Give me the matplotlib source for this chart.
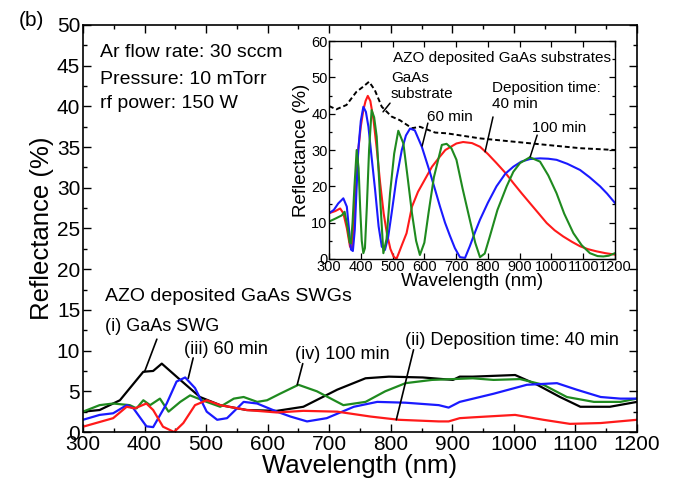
import matplotlib
matplotlib.use("Agg")
import matplotlib.pyplot as plt
from matplotlib.ticker import MultipleLocator

plt.rcParams['font.family'] = ['Liberation Sans', 'DejaVu Sans']

# ---------------- main panel data (AZO deposited GaAs SWGs) ----------------
swg_wl = [300, 327, 360, 398, 414, 428, 458, 490, 523, 566, 615, 658, 713, 759, 797, 852,
          901, 912, 933, 1002, 1038, 1075, 1108, 1156, 1200]
swg_R = [2.5, 2.7, 3.9, 7.4, 7.5, 8.4, 6.4, 4.3, 3.3, 2.7, 2.6, 3.1, 5.2, 6.6, 6.8, 6.7,
         6.4, 6.8, 6.8, 7.0, 5.8, 4.3, 3.1, 3.1, 3.7]

m40_wl = [300, 349, 371, 384, 403, 414, 430, 448, 463, 482, 501, 523, 566, 615, 658, 713,
          767, 813, 878, 894, 912, 933, 1002, 1048, 1091, 1141, 1200]
m40_R = [0.65, 1.7, 3.1, 2.9, 3.5, 2.7, 0.65, 0.0, 1.1, 3.3, 3.9, 3.3, 2.7, 2.4, 2.6, 2.5,
         1.9, 1.5, 1.3, 1.3, 1.7, 1.8, 2.1, 1.5, 1.0, 1.1, 1.5]

m60_wl = [300, 327, 349, 371, 382, 403, 414, 436, 452, 466, 482, 501, 518, 534, 561, 583,
          615, 637, 664, 696, 740, 778, 824, 878, 894, 912, 967, 1021, 1070, 1102, 1141,
          1173, 1200]
m60_R = [1.5, 2.1, 2.3, 3.3, 2.9, 0.7, 0.6, 3.5, 6.2, 6.7, 5.4, 2.5, 1.5, 1.7, 3.7, 3.5,
         2.5, 1.9, 1.3, 1.7, 3.1, 3.7, 3.6, 3.3, 3.0, 3.7, 4.7, 5.8, 6.0, 5.2, 4.3,
         4.1, 4.1]

m100_wl = [300, 327, 349, 376, 387, 398, 409, 425, 439, 458, 474, 501, 523, 545, 561, 583,
           599, 620, 650, 680, 723, 759, 791, 824, 867, 901, 933, 967, 1010, 1048, 1086,
           1130, 1173, 1200]
m100_R = [2.5, 3.3, 3.5, 3.3, 2.9, 3.9, 3.3, 4.1, 2.5, 3.7, 4.5, 3.7, 3.1, 4.1, 4.3, 3.7,
          3.9, 4.7, 5.8, 5.0, 3.3, 3.7, 5.0, 6.0, 6.4, 6.5, 6.6, 6.4, 6.5, 5.8, 4.3,
          3.7, 3.7, 4.1]

# ---------------- inset data (AZO deposited GaAs substrates) ----------------
sub_wl = [300, 323, 355, 386, 407, 426, 444, 466, 497, 523, 561, 586, 634, 670, 775, 880,
          985, 1090, 1200]
sub_R = [42.1, 41.2, 42.4, 46.0, 47.4, 48.8, 46.5, 41.9, 39.2, 38.2, 36.0, 36.4, 34.8,
         34.6, 33.2, 32.3, 31.4, 30.5, 30.0]

i40_wl = [300, 320, 335, 345, 356, 366, 372, 377, 385, 392, 400, 408, 415, 422, 430, 440,
          450, 461, 472, 482, 493, 503, 512, 519, 530, 544, 561, 580, 596, 624, 649, 666,
          701, 722, 750, 775, 800, 827, 855, 880, 906, 932, 960, 985, 1010, 1037, 1065,
          1090, 1115, 1142, 1170, 1200]
i40_R = [12.6, 13.2, 13.9, 12.6, 8.5, 3.4, 2.8, 8.9, 20.0, 30.0, 36.5, 41.0, 43.5, 44.9,
         43.5, 38.3, 30.5, 20.8, 12.5, 7.1, 2.8, 0.7, 0.0, 1.5, 4.0, 7.1, 14.4, 18.5, 21.0,
         25.4, 28.2, 30.0, 31.8, 32.2, 31.9, 30.9, 28.9, 26.4, 23.7, 20.9, 18.1, 15.4, 12.5,
         9.9, 7.9, 6.2, 4.7, 3.5, 2.7, 2.1, 1.6, 1.2]

i60_wl = [300, 315, 329, 345, 356, 363, 369, 375, 381, 392, 400, 408, 416, 424, 434, 445,
          456, 466, 476, 486, 497, 512, 529, 542, 555, 570, 592, 617, 634, 649, 665, 680,
          696, 712, 728, 743, 760, 775, 800, 827, 855, 880, 905, 932, 964, 990, 1016,
          1050, 1090, 1120, 1153, 1175, 1200]
i60_R = [12.6, 13.5, 15.3, 16.7, 14.4, 8.0, 2.6, 2.2, 8.0, 30.0, 38.0, 41.9, 40.5, 36.4,
         28.0, 19.0, 9.0, 3.4, 2.5, 6.0, 12.6, 22.0, 30.0, 34.0, 35.9, 35.4, 30.9, 24.0,
         19.0, 14.5, 10.0, 6.5, 3.0, 0.5, 0.3, 3.5, 7.5, 10.8, 15.5, 20.0, 23.5, 25.4,
         26.8, 27.5, 27.7, 27.6, 27.3, 26.2, 24.5, 22.5, 20.0, 18.0, 15.4]

i100_wl = [300, 322, 340, 349, 358, 365, 369, 374, 380, 387, 393, 398, 403, 408, 413, 419,
           426, 434, 442, 450, 460, 471, 481, 492, 505, 518, 534, 548, 561, 574, 586, 600,
           613, 630, 655, 670, 685, 701, 720, 743, 760, 775, 790, 806, 830, 859, 880, 901,
           932, 964, 990, 1016, 1040, 1069, 1095, 1121, 1145, 1163, 1180, 1200]
i100_R = [10.3, 11.2, 12.0, 13.0, 8.9, 4.5, 4.3, 10.0, 20.0, 30.0, 25.0, 14.0, 5.0, 1.6, 3.0,
          14.4, 30.0, 41.0, 39.0, 33.7, 18.0, 1.6, 5.5, 18.1, 29.0, 35.3, 31.8, 22.0, 12.6,
          5.0, 1.1, 4.5, 12.6, 22.5, 31.4, 31.7, 30.5, 27.3, 19.5, 10.8, 4.5, 0.5, 1.5,
          6.2, 13.5, 20.0, 24.0, 26.4, 28.0, 26.8, 23.0, 18.1, 12.5, 7.1, 3.8, 1.6, 0.8,
          0.7, 0.9, 1.6]

RED = '#ff1a1a'
BLUE = '#1a1aff'
GREEN = '#1f8a1f'

fig = plt.figure(figsize=(6.78, 4.86), dpi=100)
ax = fig.add_axes([0.1224, 0.1111, 0.8171, 0.8375])

lw = 1.6
ax.plot(swg_wl, swg_R, color='black', lw=lw)
ax.plot(m100_wl, m100_R, color=GREEN, lw=lw)
ax.plot(m60_wl, m60_R, color=BLUE, lw=lw)
ax.plot(m40_wl, m40_R, color=RED, lw=lw)

ax.set_xlim(300, 1200)
ax.set_ylim(0, 50)
ax.xaxis.set_major_locator(MultipleLocator(100))
ax.xaxis.set_minor_locator(MultipleLocator(50))
ax.yaxis.set_major_locator(MultipleLocator(5))
ax.yaxis.set_minor_locator(MultipleLocator(2.5))
ax.tick_params(which='both', direction='in', top=True, right=True, width=1.0)
ax.tick_params(which='major', length=6, labelsize=15, pad=2)
ax.tick_params(which='minor', length=3)
for s in ax.spines.values():
    s.set_linewidth(1.2)
ax.set_xlabel('Wavelength (nm)', fontsize=18.5, labelpad=0)
ax.set_ylabel('Reflectance (%)', fontsize=18.5, labelpad=2)

fig.text(0.027, 0.958, '(b)', fontsize=15, va='center', ha='left')

ax.text(328, 46.6, 'Ar flow rate: 30 sccm', fontsize=14, va='center')
ax.text(328, 43.3, 'Pressure: 10 mTorr', fontsize=14, va='center')
ax.text(328, 40.3, 'rf power: 150 W', fontsize=14, va='center')
ax.text(336, 16.6, 'AZO deposited GaAs SWGs', fontsize=14, va='center')

ap = dict(arrowstyle='-', color='black', lw=1.2, shrinkA=0, shrinkB=0)
ax.text(336, 13.0, '(i) GaAs SWG', fontsize=13, va='center')
ax.annotate('', xy=(400, 7.4), xytext=(420, 11.4), arrowprops=ap)
ax.text(464, 10.1, '(iii) 60 min', fontsize=13, va='center')
ax.annotate('', xy=(471, 6.6), xytext=(479, 9.1), arrowprops=ap)
ax.text(645, 9.5, '(iv) 100 min', fontsize=13, va='center')
ax.annotate('', xy=(648, 5.8), xytext=(657, 8.4), arrowprops=ap)
ax.text(823, 11.3, '(ii) Deposition time: 40 min', fontsize=13, va='center')
ax.annotate('', xy=(809, 1.5), xytext=(837, 10.1), arrowprops=ap)

# ---------------- inset ----------------
ins = fig.add_axes([0.4853, 0.4671, 0.4218, 0.4485])
ins.set_facecolor('white')
ins.plot(sub_wl, sub_R, color='black', lw=1.4, ls=(0, (2.5, 1.5)))
ins.plot(i40_wl, i40_R, color=RED, lw=1.5)
ins.plot(i60_wl, i60_R, color=BLUE, lw=1.5)
ins.plot(i100_wl, i100_R, color=GREEN, lw=1.5)
ins.set_xlim(300, 1200)
ins.set_ylim(0, 60)
ins.xaxis.set_major_locator(MultipleLocator(100))
ins.yaxis.set_major_locator(MultipleLocator(10))
ins.yaxis.set_minor_locator(MultipleLocator(5))
ins.tick_params(which='both', direction='in', top=True, right=True, width=0.9)
ins.tick_params(which='major', length=4, labelsize=10.5, pad=1)
ins.tick_params(which='minor', length=2)
for s in ins.spines.values():
    s.set_linewidth(1.0)
ins.set_xlabel('Wavelength (nm)', fontsize=13.5, labelpad=-1)
ins.set_ylabel('Reflectance (%)', fontsize=13.5, labelpad=1)

ins.text(0.985, 0.92, 'AZO deposited GaAs substrates', transform=ins.transAxes,
         fontsize=11, ha='right', va='center')
ins.text(497, 49.8, 'GaAs', fontsize=11, va='center')
ins.text(494, 45.4, 'substrate', fontsize=11, va='center')
iap = dict(arrowstyle='-', color='black', lw=1.1, shrinkA=0, shrinkB=0)
ins.annotate('', xy=(470, 40.5), xytext=(492, 42.9), arrowprops=iap)
ins.text(607, 39.1, '60 min', fontsize=11, va='center')
ins.annotate('', xy=(593, 31.1), xytext=(611, 37.4), arrowprops=iap)
ins.text(813, 47.1, 'Deposition time:', fontsize=11, va='center')
ins.text(813, 42.7, '40 min', fontsize=11, va='center')
ins.annotate('', xy=(791, 29.5), xytext=(816, 39.1), arrowprops=iap)
ins.text(939, 36.0, '100 min', fontsize=11, va='center')
ins.annotate('', xy=(933, 28.1), xytext=(955, 34.1), arrowprops=iap)

fig.savefig('out.png', dpi=100)
